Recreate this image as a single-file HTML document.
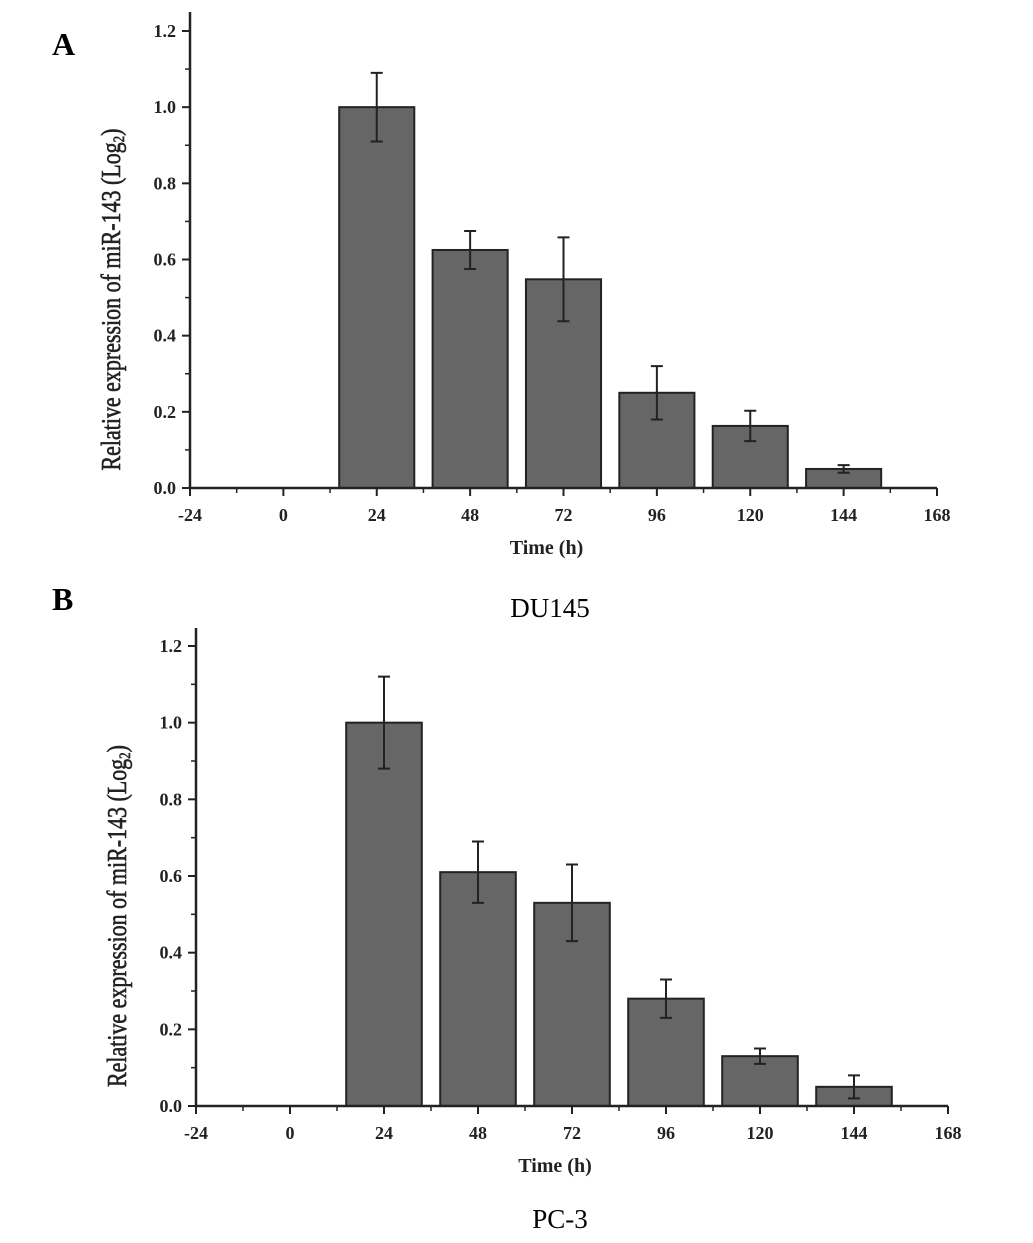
<!DOCTYPE html>
<html><head><meta charset="utf-8"><style>
body{margin:0;background:#fff}
svg{display:block;font-family:"Liberation Serif",serif}
</style></head><body>
<svg id="c" width="1033" height="1243" viewBox="0 0 1033 1243">
<text x="52" y="55" font-size="32" font-weight="bold">A</text>
<text x="52" y="610" font-size="32" font-weight="bold">B</text>
<text x="550" y="617" font-size="27" text-anchor="middle">DU145</text>
<text x="560" y="1228" font-size="27" text-anchor="middle">PC-3</text>
</svg>
<script>
const categories=[24,48,72,96,120,144];
const valuesA=[1.0,0.625,0.548,0.25,0.163,0.05];
const errorsA=[0.09,0.05,0.11,0.07,0.04,0.01];
const valuesB=[1.0,0.61,0.53,0.28,0.13,0.05];
const errorsB=[0.12,0.08,0.1,0.05,0.02,0.03];
const xTicks=[-24,0,24,48,72,96,120,144,168];
const yTicks=[0.0,0.2,0.4,0.6,0.8,1.0,1.2];
const NS="http://www.w3.org/2000/svg";
const svg=document.getElementById('c');
function mk(t,a,p){const e=document.createElementNS(NS,t);for(const k in a)e.setAttribute(k,a[k]);(p||svg).appendChild(e);return e;}
function panel(id,vals,errs,L,R,y0,y12,top,titleX,timeY){
  const g=mk('g',{});
  
  
  const xs=v=>L+(v+24)/192*(R-L);
  const ys=v=>y0+(y12-y0)*v/1.2;
  const bw=19.3*(R-L)/192;
  vals.forEach((v,i)=>{
    const cx=xs(categories[i]);
    const r=mk('rect',{x:cx-bw/2,y:ys(v),width:bw,height:y0-ys(v),fill:'#666',stroke:'#222','stroke-width':2},g);
    
    
    const hi=ys(v+errs[i]),lo=ys(v-errs[i]);
    const eb=mk('path',{d:`M${cx},${hi}V${lo}M${cx-6},${hi}H${cx+6}M${cx-6},${lo}H${cx+6}`,stroke:'#222','stroke-width':2,fill:'none'},g);
    
    
  });
  const ax=mk('path',{d:`M${L},${top}V${y0}H${R}`,stroke:'#222','stroke-width':2.5,fill:'none'},g);
  
  
  yTicks.forEach(t=>{
    const y=ys(t);
    mk('line',{x1:L-8,x2:L,y1:y,y2:y,stroke:'#222','stroke-width':2},g);
    const tx=mk('text',{x:L-14,y:y+6,'font-size':18,'font-weight':'bold','text-anchor':'end',fill:'#222'},g);
    tx.textContent=t.toFixed(1);
    
    
    if(t<1.2){const m=ys(t+0.1);mk('line',{x1:L-5,x2:L,y1:m,y2:m,stroke:'#222','stroke-width':1.5},g);}
  });
  xTicks.forEach(t=>{
    const x=xs(t);
    mk('line',{x1:x,x2:x,y1:y0,y2:y0+8,stroke:'#222','stroke-width':2},g);
    const tx=mk('text',{x:x,y:y0+33,'font-size':18,'font-weight':'bold','text-anchor':'middle',fill:'#222'},g);
    tx.textContent=t;
    
    
    if(t<168){const m=xs(t+12);mk('line',{x1:m,x2:m,y1:y0,y2:y0+5,stroke:'#222','stroke-width':1.5},g);}
  });
  const xt=mk('text',{x:(L+R)/2-17,y:timeY,'font-size':20,'font-weight':'bold','text-anchor':'middle',fill:'#222'},g);
  xt.textContent='Time (h)';
  
  
  const yt=mk('text',{transform:`translate(${titleX},${(y0+y12)/2+40}) rotate(-90)`,'font-size':27,'text-anchor':'middle',fill:'#222',stroke:'#222','stroke-width':0.6,'textLength':342,'lengthAdjust':'spacingAndGlyphs'},g);
  yt.innerHTML='Relative expression of miR-143 (Log<tspan font-size="16" dy="4">2</tspan><tspan dy="-4">)</tspan>';
  
  
}
panel('a',valuesA,errorsA,190,937,488,31,12,120,554);
panel('b',valuesB,errorsB,196,948,1106,646,628,126,1172);
</script>
</body></html>
